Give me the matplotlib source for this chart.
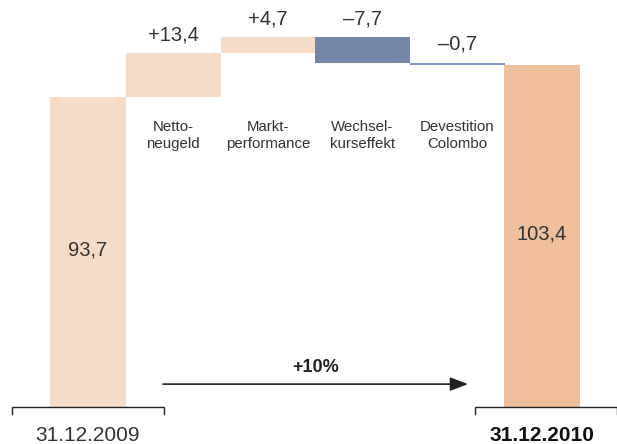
import matplotlib.pyplot as plt
from matplotlib.patches import FancyArrowPatch

# Werte (Mrd. CHF)
start_label = "31.12.2009"
end_label = "31.12.2010"
start_value = 93.7
steps = ["Netto-\nneugeld", "Markt-\nperformance", "Wechsel-\nkurseffekt", "Devestition\nColombo"]
step_values = [13.4, 4.7, -7.7, -0.7]
end_value = 103.4
growth_label = "+10%"

# Layout (x in Pixeln der Grafik)
start_x, start_w = 50, 76
step_x = [126, 221, 315, 410]
step_w = 94.5
end_x, end_w = 504, 76

c_light = "#F6DBC6"
c_neg = ["#7487AB", "#7487AB", "#7487AB", "#8497C0"]
c_end = "#EEBF9A"
txt = "#333333"

plt.rcParams['font.family'] = ['Liberation Sans', 'DejaVu Sans']

fig = plt.figure(figsize=(6.17, 4.44), dpi=100)
ax = fig.add_axes([0, 0, 1, 1])
ax.set_xlim(0, 617)
ax.set_ylim(-11.2, 123)
ax.axis('off')


def fmt(v, sign=True):
    s = f"{abs(v):.1f}".replace(".", ",")
    if not sign:
        return s
    return ("+" if v >= 0 else "\u2013") + s


# Anfangsbestand
ax.bar(start_x, start_value, width=start_w, align='edge', color=c_light)
ax.text(start_x + start_w / 2, start_value / 2 + 0.7, fmt(start_value, False),
        ha='center', va='center', fontsize=14.5, color=txt)

# Veränderungen
level = start_value
for i, (x, lab, v) in enumerate(zip(step_x, steps, step_values)):
    col = c_light if v >= 0 else c_neg[i]
    ax.bar(x, v, bottom=level, width=step_w, align='edge', color=col)
    top = max(level, level + v)
    ax.text(x + step_w / 2, top + 2.6, fmt(v), ha='center', va='bottom',
            fontsize=14.5, color=txt)
    ax.text(x + step_w / 2, 82.0, lab, ha='center', va='center',
            fontsize=10.8, color=txt, linespacing=1.3)
    level += v

# Endbestand
ax.bar(end_x, end_value, width=end_w, align='edge', color=c_end)
ax.text(end_x + end_w / 2, end_value / 2 + 0.7, fmt(end_value, False),
        ha='center', va='center', fontsize=14.5, color=txt)

# Klammern unter den Säulen
for x0, x1 in [(12, 164), (475, 617)]:
    ax.plot([x0, x0, x1, x1], [-2.1, 0, 0, -2.1], color="#222222", lw=1.0,
            solid_joinstyle='miter', clip_on=False)

ax.text(87, -8.6, start_label, ha='center', va='center', fontsize=15, color=txt)
ax.text(542, -8.6, end_label, ha='center', va='center', fontsize=15,
        color="#111111", fontweight='bold')

# Wachstumspfeil
arrow = FancyArrowPatch((163, 6.9), (468, 6.9), arrowstyle='-|>,head_length=0.68,head_width=0.26',
                        mutation_scale=16, color="#222222", lw=1.2,
                        shrinkA=0, shrinkB=0)
ax.add_patch(arrow)
ax.text(316, 11.9, growth_label, ha='center', va='center', fontsize=13,
        fontweight='bold', color="#222222")

fig.savefig("out.png", dpi=100)
